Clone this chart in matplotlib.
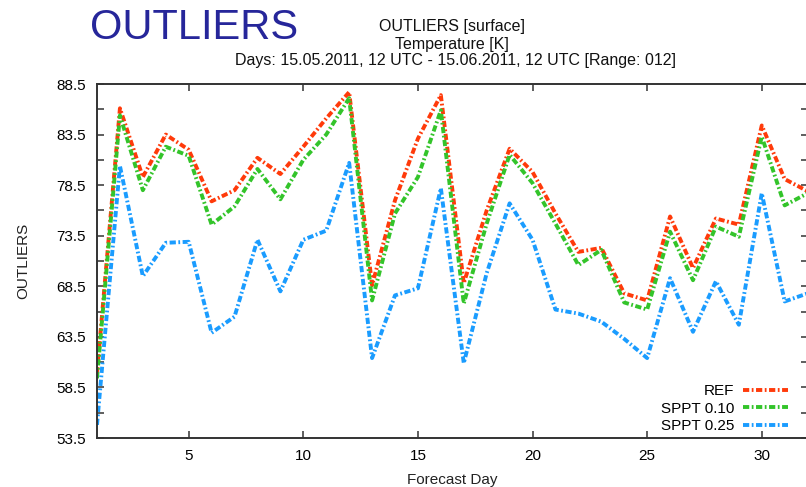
import matplotlib
matplotlib.use("Agg")
import matplotlib.pyplot as plt
from matplotlib.ticker import FixedLocator

days = list(range(1, 33))
ref = [59.9, 86.1, 79.3, 83.5, 82.0, 76.9, 78.0, 81.2, 79.6, 82.3, 85.1, 87.7,
       68.6, 77.0, 83.1, 87.4, 68.8, 76.0, 82.1, 79.8, 75.7, 71.9, 72.3, 67.8,
       67.1, 75.4, 70.3, 75.2, 74.6, 84.4, 79.1, 77.9]
sppt010 = [59.4, 85.4, 78.0, 82.3, 81.4, 74.6, 76.4, 80.1, 77.1, 81.0, 83.5, 87.1,
           67.1, 75.7, 79.3, 85.9, 66.8, 74.7, 81.5, 78.7, 74.7, 70.6, 72.1, 66.9,
           66.2, 73.9, 69.1, 74.4, 73.4, 83.3, 76.5, 77.7]
sppt025 = [54.8, 80.4, 69.5, 72.8, 72.9, 63.9, 65.5, 73.1, 68.0, 73.1, 74.0, 80.7,
           61.4, 67.6, 68.3, 78.2, 60.9, 69.8, 76.7, 73.1, 66.2, 65.8, 65.0, 63.3,
           61.4, 69.3, 64.0, 69.0, 64.7, 77.7, 67.0, 67.8]
series_names = ["REF", "SPPT 0.10", "SPPT 0.25"]
colors = ["#ff3a0a", "#33c42a", "#1a9cff"]
yticks = [53.5, 58.5, 63.5, 68.5, 73.5, 78.5, 83.5, 88.5]
xticks = [5, 10, 15, 20, 25, 30]

fam = ["Liberation Sans", "DejaVu Sans"]

fig = plt.figure(figsize=(8.06, 4.87), dpi=100)
ax = fig.add_axes([97/806, 49/487, 1.002 - 97/806, (438-84)/487])

for vals, name, c in zip([ref, sppt010, sppt025], series_names, colors):
    ax.plot(days, vals, color=c, lw=2.8, dashes=(1.6, 0.65, 0.45, 0.65),
            label=name, solid_capstyle="butt", dash_capstyle="butt")

ax.set_xlim(1, 32)
ax.set_ylim(53.5, 88.5)
ax.xaxis.set_major_locator(FixedLocator(xticks))
ax.yaxis.set_major_locator(FixedLocator(yticks))
ax.yaxis.set_minor_locator(FixedLocator([y + 2.5 for y in yticks[:-1]]))
ax.set_yticklabels([f"{y:.1f}" for y in yticks], family=fam, fontsize=11)
ax.set_xticklabels([str(x) for x in xticks], family=fam, fontsize=11)
ax.tick_params(which="both", direction="in", top=True, right=True,
               length=5, width=1.1, color="#333333", pad=8)
for s in ax.spines.values():
    s.set_linewidth(1.4)
    s.set_color("#333333")

ax.set_xlabel("Forecast Day", family=fam, fontsize=11, labelpad=7, color="#222222")
ax.set_ylabel("OUTLIERS", family=fam, fontsize=11, labelpad=19, color="#222222")

leg = ax.legend(loc="lower right", frameon=False, markerfirst=False,
                prop={"family": fam, "size": 11}, handlelength=2.9,
                labelspacing=0.22, borderaxespad=0.2, bbox_to_anchor=(0.985, -0.012),
                handletextpad=0.6)

fig.text(90/806, 1 - 28/487, "OUTLIERS", family=fam, fontsize=30,
         color="#26269a", va="center", ha="left")
fig.text(452/806, 1 - 27/487, "OUTLIERS [surface]", family=fam, fontsize=11.5,
         ha="center", va="center", color="#111111")
fig.text(452/806, 1 - 44/487, "Temperature [K]", family=fam, fontsize=11.5,
         ha="center", va="center", color="#111111")
fig.text(455/806, 1 - 61/487,
         "Days: 15.05.2011, 12 UTC - 15.06.2011, 12 UTC [Range: 012]",
         family=fam, fontsize=11.5, ha="center", va="center", color="#111111")

fig.savefig("out.png", dpi=100)
